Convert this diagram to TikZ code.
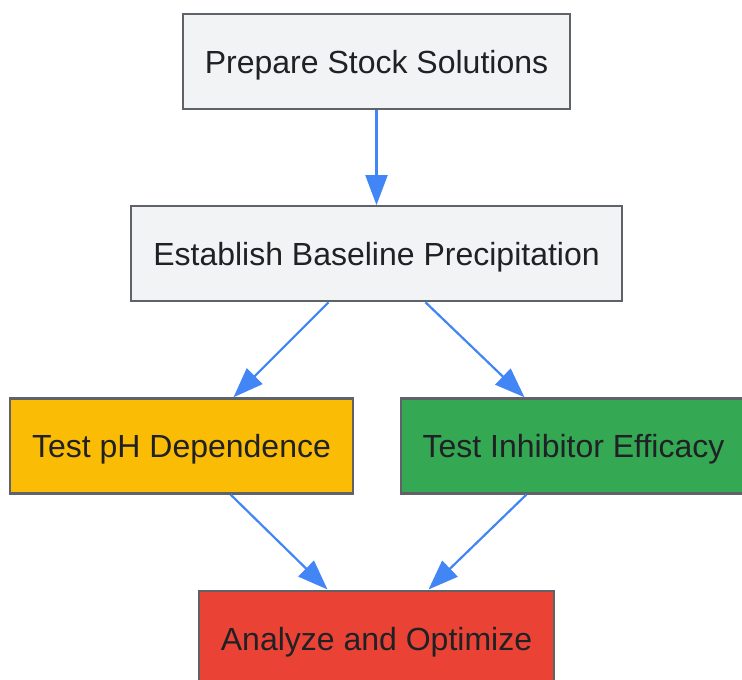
\documentclass[tikz,border=0pt]{standalone}
\usepackage{fontspec}
\setmainfont{Liberation Sans}
\usetikzlibrary{positioning,arrows.meta}

\definecolor{boxgray}{HTML}{F1F3F4}
\definecolor{boxline}{HTML}{5F6368}
\definecolor{gyellow}{HTML}{FBBC05}
\definecolor{ggreen}{HTML}{34A853}
\definecolor{gred}{HTML}{EA4335}
\definecolor{gblue}{HTML}{4285F4}
\definecolor{txt}{HTML}{202124}

\begin{document}
\begin{tikzpicture}[x=1pt, y=-1pt,
  Sn/.style={draw=boxline, line width=2.2pt, rectangle, minimum height=95pt,
    inner xsep=22pt, text height=24pt, text depth=0pt, text=txt,
    font=\fontsize{32}{38}\selectfont},
  Ar/.style={draw=gblue, line width=2.2pt, -{Triangle[length=30pt,width=22pt]}}]
  \useasboundingbox (0,0) rectangle (742,680);

\node[Sn, fill=boxgray] at (376.5,61.5) (prep) {Prepare Stock Solutions};
\node[Sn, fill=boxgray, below=95pt of prep] (base) {Establish Baseline Precipitation};
\node[Sn, fill=gyellow, below=95pt of base, xshift=-195pt] (ph) {Test pH Dependence};
\node[Sn, fill=ggreen, below=95pt of base, xshift=197pt] (inh) {Test Inhibitor Efficacy};
\node[Sn, fill=gred, below=95pt of ph, xshift=195pt] (opt) {Analyze and Optimize};

\draw[Ar] (prep) -- (base);
\draw[Ar] ([xshift=-48pt]base.south) -- ([xshift=52pt]ph.north);
\draw[Ar] ([xshift=49pt]base.south) -- ([xshift=-49pt]inh.north);
\draw[Ar] ([xshift=49pt]ph.south) -- ([xshift=-49pt]opt.north);
\draw[Ar] ([xshift=-47pt]inh.south) -- ([xshift=52pt]opt.north);

\end{tikzpicture}
\end{document}
